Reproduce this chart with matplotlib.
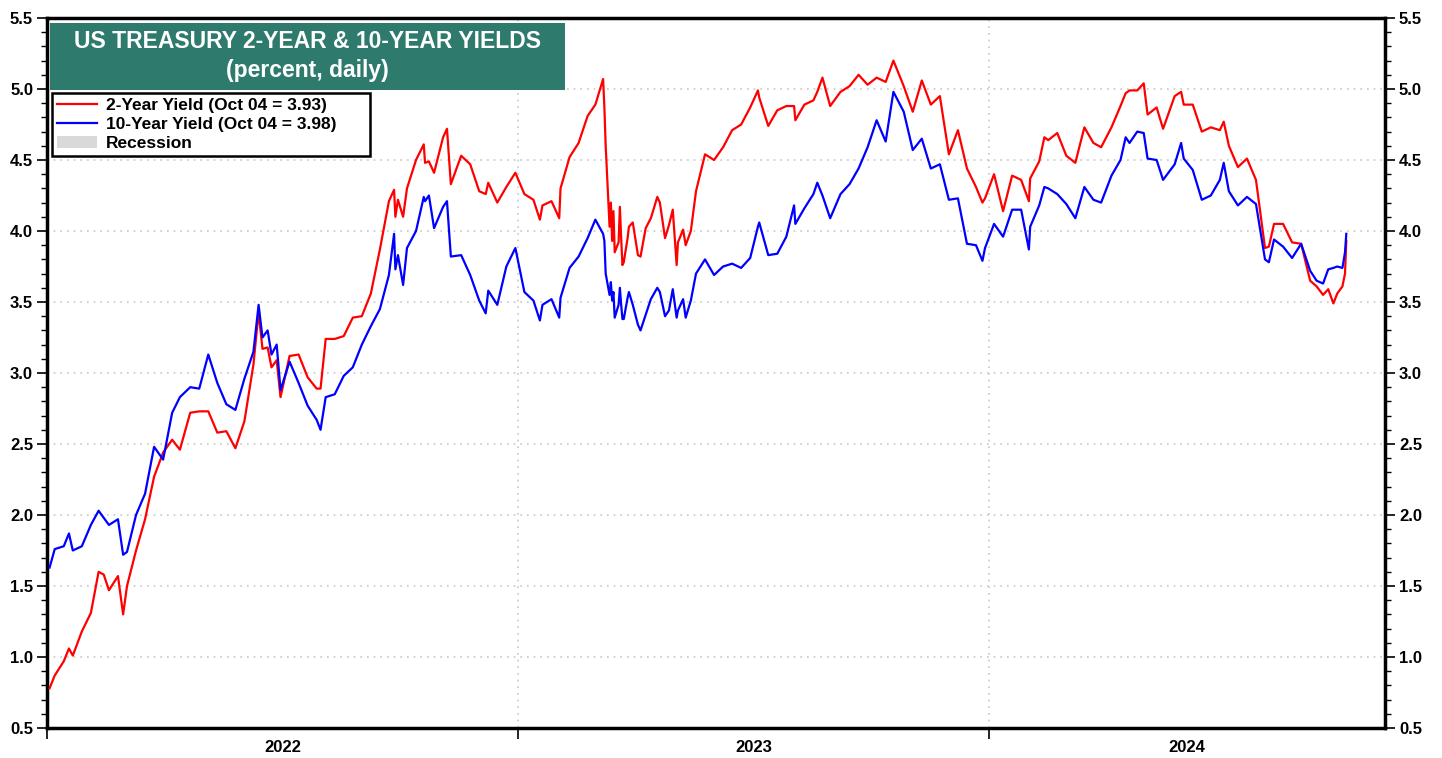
"""US Treasury 2-year and 10-year yields, daily, 2022-2024."""

import matplotlib

matplotlib.use("Agg")
import matplotlib.pyplot as plt
import pandas as pd
from matplotlib.lines import Line2D
from matplotlib.patches import Patch, Rectangle
from matplotlib.ticker import FormatStrFormatter, MultipleLocator

plt.rcParams["font.family"] = ["Liberation Sans", "DejaVu Sans"]
plt.rcParams["font.weight"] = "bold"

# readings (percent)
DATES = [
    "2022-01-03", "2022-01-07", "2022-01-14", "2022-01-18", "2022-01-21", "2022-01-28",
    "2022-02-04", "2022-02-10", "2022-02-14", "2022-02-18", "2022-02-25", "2022-03-01",
    "2022-03-04", "2022-03-11", "2022-03-18", "2022-03-25", "2022-04-01", "2022-04-08",
    "2022-04-14", "2022-04-22", "2022-04-29", "2022-05-06", "2022-05-13", "2022-05-20",
    "2022-05-27", "2022-06-03", "2022-06-10", "2022-06-14", "2022-06-17", "2022-06-21",
    "2022-06-24", "2022-06-28", "2022-07-01", "2022-07-08", "2022-07-15", "2022-07-22",
    "2022-07-29", "2022-08-01", "2022-08-05", "2022-08-12", "2022-08-19", "2022-08-26",
    "2022-09-02", "2022-09-09", "2022-09-16", "2022-09-23", "2022-09-27", "2022-09-28",
    "2022-09-30", "2022-10-04", "2022-10-07", "2022-10-14", "2022-10-20", "2022-10-21",
    "2022-10-24", "2022-10-28", "2022-11-04", "2022-11-07", "2022-11-10", "2022-11-18",
    "2022-11-25", "2022-12-02", "2022-12-07", "2022-12-09", "2022-12-16", "2022-12-23",
    "2022-12-30",
    "2023-01-06", "2023-01-13", "2023-01-18", "2023-01-20", "2023-01-27", "2023-02-02",
    "2023-02-03", "2023-02-10", "2023-02-17", "2023-02-24", "2023-03-02", "2023-03-08",
    "2023-03-09", "2023-03-10", "2023-03-13", "2023-03-14", "2023-03-15", "2023-03-16",
    "2023-03-17", "2023-03-20", "2023-03-21", "2023-03-22", "2023-03-23", "2023-03-24",
    "2023-03-27", "2023-03-28", "2023-03-31", "2023-04-04", "2023-04-06", "2023-04-10",
    "2023-04-14", "2023-04-19", "2023-04-21", "2023-04-25", "2023-04-28", "2023-05-01",
    "2023-05-04", "2023-05-05", "2023-05-09", "2023-05-11", "2023-05-15", "2023-05-19",
    "2023-05-26", "2023-06-02", "2023-06-09", "2023-06-16", "2023-06-23", "2023-06-30",
    "2023-07-06", "2023-07-07", "2023-07-14", "2023-07-21", "2023-07-28", "2023-08-03",
    "2023-08-04", "2023-08-11", "2023-08-18", "2023-08-21", "2023-08-25", "2023-08-31",
    "2023-09-08", "2023-09-15", "2023-09-22", "2023-09-29", "2023-10-06", "2023-10-13",
    "2023-10-19", "2023-10-27", "2023-11-03", "2023-11-10", "2023-11-17", "2023-11-24",
    "2023-12-01", "2023-12-08", "2023-12-15", "2023-12-22", "2023-12-27", "2023-12-29",
    "2024-01-05", "2024-01-12", "2024-01-19", "2024-01-26", "2024-02-01", "2024-02-02",
    "2024-02-09", "2024-02-13", "2024-02-16", "2024-02-23", "2024-03-01", "2024-03-08",
    "2024-03-15", "2024-03-22", "2024-03-28", "2024-04-05", "2024-04-12", "2024-04-16",
    "2024-04-19", "2024-04-25", "2024-04-30", "2024-05-03", "2024-05-10", "2024-05-15",
    "2024-05-24", "2024-05-29", "2024-05-31", "2024-06-07", "2024-06-14", "2024-06-21",
    "2024-06-28", "2024-07-01", "2024-07-05", "2024-07-12", "2024-07-19", "2024-07-26",
    "2024-08-02", "2024-08-05", "2024-08-09", "2024-08-16", "2024-08-23", "2024-08-30",
    "2024-09-06", "2024-09-11", "2024-09-16", "2024-09-20", "2024-09-24", "2024-09-27",
    "2024-10-01", "2024-10-03", "2024-10-04",
]
YIELD_2Y = [
    0.78, 0.87, 0.97, 1.06, 1.01, 1.18,
    1.31, 1.60, 1.58, 1.47, 1.57, 1.30,
    1.50, 1.75, 1.97, 2.27, 2.44, 2.53,
    2.46, 2.72, 2.73, 2.73, 2.58, 2.59,
    2.47, 2.66, 3.06, 3.43, 3.17, 3.18,
    3.04, 3.09, 2.83, 3.12, 3.13, 2.97,
    2.89, 2.89, 3.24, 3.24, 3.26, 3.39,
    3.40, 3.56, 3.87, 4.21, 4.29, 4.10,
    4.22, 4.10, 4.30, 4.50, 4.61, 4.48,
    4.49, 4.41, 4.66, 4.72, 4.33, 4.53,
    4.47, 4.28, 4.26, 4.34, 4.20, 4.31,
    4.41,
    4.26, 4.22, 4.08, 4.18, 4.21, 4.09,
    4.30, 4.52, 4.62, 4.81, 4.89, 5.07,
    4.87, 4.60, 4.03, 4.20, 3.93, 4.14,
    3.85, 3.92, 4.17, 3.95, 3.76, 3.78,
    3.95, 4.03, 4.06, 3.83, 3.82, 4.02,
    4.09, 4.24, 4.20, 3.95, 4.04, 4.15,
    3.76, 3.92, 4.01, 3.90, 4.00, 4.28,
    4.54, 4.50, 4.59, 4.71, 4.75, 4.87,
    4.99, 4.94, 4.74, 4.85, 4.88, 4.88,
    4.78, 4.89, 4.92, 4.98, 5.08, 4.88,
    4.98, 5.02, 5.10, 5.03, 5.08, 5.05,
    5.20, 5.02, 4.84, 5.06, 4.89, 4.95,
    4.54, 4.71, 4.44, 4.31, 4.20, 4.23,
    4.40, 4.14, 4.39, 4.36, 4.21, 4.37,
    4.49, 4.66, 4.64, 4.69, 4.53, 4.48,
    4.73, 4.62, 4.59, 4.73, 4.88, 4.97,
    4.99, 4.99, 5.04, 4.82, 4.87, 4.72,
    4.95, 4.98, 4.89, 4.89, 4.70, 4.73,
    4.71, 4.77, 4.60, 4.45, 4.51, 4.36,
    3.88, 3.89, 4.05, 4.05, 3.92, 3.91,
    3.65, 3.61, 3.55, 3.59, 3.49, 3.56,
    3.61, 3.70, 3.93,
]
YIELD_10Y = [
    1.63, 1.76, 1.78, 1.87, 1.75, 1.78,
    1.93, 2.03, 1.98, 1.93, 1.97, 1.72,
    1.74, 2.00, 2.15, 2.48, 2.39, 2.72,
    2.83, 2.90, 2.89, 3.13, 2.93, 2.78,
    2.74, 2.96, 3.15, 3.48, 3.25, 3.30,
    3.13, 3.20, 2.88, 3.08, 2.93, 2.77,
    2.67, 2.60, 2.83, 2.85, 2.98, 3.04,
    3.20, 3.33, 3.45, 3.69, 3.98, 3.73,
    3.83, 3.62, 3.88, 4.00, 4.24, 4.21,
    4.25, 4.02, 4.17, 4.21, 3.82, 3.83,
    3.69, 3.51, 3.42, 3.58, 3.48, 3.75,
    3.88,
    3.57, 3.51, 3.37, 3.48, 3.52, 3.39,
    3.53, 3.74, 3.82, 3.95, 4.08, 3.98,
    3.93, 3.70, 3.55, 3.64, 3.51, 3.57,
    3.39, 3.48, 3.60, 3.48, 3.38, 3.38,
    3.53, 3.57, 3.48, 3.34, 3.30, 3.41,
    3.52, 3.60, 3.57, 3.40, 3.44, 3.59,
    3.39, 3.44, 3.52, 3.39, 3.51, 3.70,
    3.80, 3.69, 3.75, 3.77, 3.74, 3.81,
    4.03, 4.06, 3.83, 3.84, 3.96, 4.18,
    4.05, 4.16, 4.26, 4.34, 4.25, 4.09,
    4.26, 4.33, 4.44, 4.59, 4.78, 4.63,
    4.98, 4.84, 4.57, 4.65, 4.44, 4.47,
    4.22, 4.23, 3.91, 3.90, 3.79, 3.88,
    4.05, 3.96, 4.15, 4.15, 3.87, 4.03,
    4.18, 4.31, 4.30, 4.26, 4.19, 4.09,
    4.31, 4.22, 4.20, 4.39, 4.50, 4.66,
    4.62, 4.70, 4.69, 4.51, 4.50, 4.36,
    4.47, 4.62, 4.51, 4.43, 4.22, 4.25,
    4.36, 4.48, 4.28, 4.18, 4.24, 4.19,
    3.80, 3.78, 3.94, 3.89, 3.81, 3.91,
    3.72, 3.65, 3.63, 3.73, 3.74, 3.75,
    3.74, 3.85, 3.98,
]

YEAR_LABELS = ["2022", "2023", "2024"]
YEAR_STARTS = ["2022-01-01", "2023-01-01", "2024-01-01"]
X_END = "2024-11-03"

TITLE_COLOR = "#2e7b6d"
GRID_COLOR = "#c8c8c8"


def main() -> None:
    fig = plt.figure(figsize=(14.42, 7.58), dpi=100)
    ax = fig.add_axes([47 / 1442, 30 / 758, 1338 / 1442, 710 / 758])

    dates = pd.to_datetime(DATES)
    ax.plot(dates, YIELD_2Y, color="#ff0000", lw=1.6, zorder=3)
    ax.plot(dates, YIELD_10Y, color="#0000ff", lw=1.6, zorder=3)

    starts = pd.to_datetime(YEAR_STARTS)
    x_end = pd.Timestamp(X_END)
    ax.set_xlim(starts[0], x_end)
    ax.set_ylim(0.5, 5.5)

    # y axis on both sides, minor ticks every 0.1
    ax.yaxis.set_major_locator(MultipleLocator(0.5))
    ax.yaxis.set_minor_locator(MultipleLocator(0.1))
    ax.yaxis.set_major_formatter(FormatStrFormatter("%.1f"))
    ax.tick_params(axis="y", which="both", left=True, right=True,
                   labelleft=True, labelright=True, direction="out")
    ax.tick_params(axis="y", which="major", length=7, width=1.2, labelsize=12, pad=3)
    ax.tick_params(axis="y", which="minor", length=4, width=1.0)

    # year boundaries get the ticks, labels sit mid-year
    ends = list(starts[1:]) + [x_end]
    mids = [s + (e - s) / 2 for s, e in zip(starts, ends)]
    ax.set_xticks(starts)
    ax.set_xticklabels([])
    ax.set_xticks(mids, minor=True)
    ax.set_xticklabels(YEAR_LABELS, minor=True)
    ax.tick_params(axis="x", which="major", length=8, width=1.2, direction="out")
    ax.tick_params(axis="x", which="minor", length=0, labelsize=12, pad=9)

    ax.grid(axis="both", which="major", color=GRID_COLOR, lw=1.2, ls=(0, (1, 3)))
    ax.set_axisbelow(True)
    for spine in ax.spines.values():
        spine.set_linewidth(2.5)

    # title box
    ax.add_patch(Rectangle((0.0022, 0.8986), 0.385, 0.0944, transform=ax.transAxes,
                           facecolor=TITLE_COLOR, edgecolor="none", zorder=5))
    ax.text(0.1947, 0.9676, "US TREASURY 2-YEAR & 10-YEAR YIELDS", transform=ax.transAxes,
            ha="center", va="center", color="white", fontsize=16.5, fontweight="bold", zorder=6)
    ax.text(0.1947, 0.926, "(percent, daily)", transform=ax.transAxes,
            ha="center", va="center", color="white", fontsize=16.5, fontweight="bold", zorder=6)

    handles = [
        Line2D([], [], color="#ff0000", lw=1.6),
        Line2D([], [], color="#0000ff", lw=1.6),
        Patch(facecolor="#d9d9d9", edgecolor="none"),
    ]
    labels = [
        f"2-Year Yield (Oct 04 = {YIELD_2Y[-1]:.2f})",
        f"10-Year Yield (Oct 04 = {YIELD_10Y[-1]:.2f})",
        "Recession",
    ]
    leg = ax.legend(handles, labels, loc="upper left",
                    bbox_to_anchor=(0.0037, 0.0, 0.2377, 0.8944), mode="expand",
                    borderaxespad=0, frameon=True, fancybox=False, framealpha=1,
                    edgecolor="black", fontsize=12.5, handlelength=2.3, handletextpad=0.5,
                    labelspacing=0.22, borderpad=0.3)
    leg.get_frame().set_linewidth(1.8)
    leg.set_zorder(6)

    fig.savefig("out.png", dpi=100)


if __name__ == "__main__":
    main()
